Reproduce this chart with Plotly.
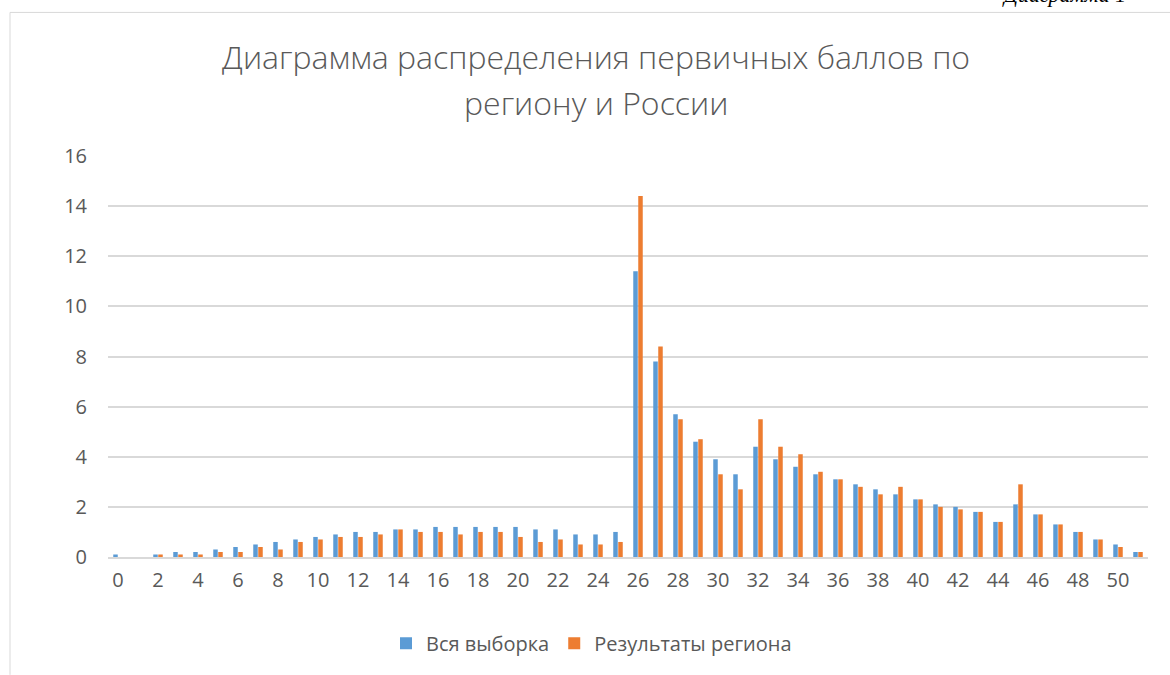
import plotly.graph_objects as go

categories = [0, 1, 2, 3, 4, 5, 6, 7, 8, 9, 10, 11, 12, 13, 14, 15, 16, 17, 18, 19,
              20, 21, 22, 23, 24, 25, 26, 27, 28, 29, 30, 31, 32, 33, 34, 35, 36, 37,
              38, 39, 40, 41, 42, 43, 44, 45, 46, 47, 48, 49, 50, 51]

all_sample = [0.1, 0, 0.1, 0.2, 0.2, 0.3, 0.4, 0.5, 0.6, 0.7, 0.8, 0.9, 1.0, 1.0,
              1.1, 1.1, 1.2, 1.2, 1.2, 1.2, 1.2, 1.1, 1.1, 0.9, 0.9, 1.0, 11.4, 7.8,
              5.7, 4.6, 3.9, 3.3, 4.4, 3.9, 3.6, 3.3, 3.1, 2.9, 2.7, 2.5, 2.3, 2.1,
              2.0, 1.8, 1.4, 2.1, 1.7, 1.3, 1.0, 0.7, 0.5, 0.2]

region = [0, 0, 0.1, 0.1, 0.1, 0.2, 0.2, 0.4, 0.3, 0.6, 0.7, 0.8, 0.8, 0.9,
          1.1, 1.0, 1.0, 0.9, 1.0, 1.0, 0.8, 0.6, 0.7, 0.5, 0.5, 0.6, 14.4, 8.4,
          5.5, 4.7, 3.3, 2.7, 5.5, 4.4, 4.1, 3.4, 3.1, 2.8, 2.5, 2.8, 2.3, 2.0,
          1.9, 1.8, 1.4, 2.9, 1.7, 1.3, 1.0, 0.7, 0.4, 0.2]

y_ticks = [0, 2, 4, 6, 8, 10, 12, 14, 16]
x_ticks = [0, 2, 4, 6, 8, 10, 12, 14, 16, 18, 20, 22, 24, 26, 28, 30, 32, 34, 36,
           38, 40, 42, 44, 46, 48, 50]

title_line1 = "Диаграмма распределения первичных баллов по"
title_line2 = "региону и России"
caption_text = "Диаграмма 1"
series_names = ["Вся выборка", "Результаты региона"]

BLUE = "#5B9BD5"
ORANGE = "#ED7D31"
TXT = "#595959"
FONT = "Open Sans"

W, H = 1170, 675
L, R, T, B = 108, 22, 156, 114
PW = W - L - R
PH = H - T - B


def px_x(px):
    return (px - L) / PW


def px_y(py):
    return (H - B - py) / PH


fig = go.Figure()
fig.add_trace(go.Bar(x=categories, y=all_sample, name=series_names[0],
                     marker=dict(color=BLUE, line=dict(width=0))))
fig.add_trace(go.Bar(x=categories, y=region, name=series_names[1],
                     marker=dict(color=ORANGE, line=dict(width=0))))

fig.update_layout(
    width=W, height=H,
    margin=dict(l=L, r=R, t=T, b=B),
    paper_bgcolor="white", plot_bgcolor="white",
    barmode="group", bargap=0.5, bargroupgap=0.1,
    font=dict(family=FONT, color=TXT, size=20),
    showlegend=True,
    legend=dict(orientation="h", x=px_x(386), y=px_y(648), xanchor="left",
                yanchor="middle", font=dict(size=20, color=TXT),
                traceorder="normal", bgcolor="rgba(0,0,0,0)"),
    xaxis=dict(range=[-0.5, 51.5], tickmode="array", tickvals=x_ticks,
               ticktext=[str(v) for v in x_ticks], showgrid=False,
               showline=True, linecolor="#D9D9D9", linewidth=1.5,
               zeroline=False, ticks="", ticklabelstandoff=4,
               tickfont=dict(size=20, color=TXT)),
    yaxis=dict(range=[0, 16], tickmode="array", tickvals=y_ticks,
               showgrid=True, gridcolor="#D9D9D9", gridwidth=1.5,
               zeroline=False, showline=False, ticks="",
               ticklabelstandoff=20, tickfont=dict(size=20, color=TXT)),
    annotations=[
        dict(text=title_line1, x=px_x(596), y=px_y(56), xref="paper", yref="paper",
             xanchor="center", yanchor="middle", showarrow=False,
             font=dict(size=32, color=TXT, family=FONT, weight=300)),
        dict(text=title_line2, x=px_x(596), y=px_y(102), xref="paper", yref="paper",
             xanchor="center", yanchor="middle", showarrow=False,
             font=dict(size=32, color=TXT, family=FONT, weight=300)),
        dict(text="<i>" + caption_text + "</i>", x=px_x(1000), y=px_y(-7), xref="paper",
             yref="paper", xanchor="left", yanchor="middle", showarrow=False,
             font=dict(size=22, color="black", family="Liberation Serif")),
    ],
    shapes=[
        dict(type="line", xref="paper", yref="paper", x0=px_x(10), x1=px_x(1175),
             y0=px_y(11), y1=px_y(11), line=dict(color="#D9D9D9", width=1)),
        dict(type="line", xref="paper", yref="paper", x0=px_x(10), x1=px_x(10),
             y0=px_y(11), y1=px_y(680), line=dict(color="#D9D9D9", width=1)),
    ],
)

fig.write_html("out.html",
               config={"displayModeBar": False},
               post_script="document.body.style.margin='0';document.body.style.overflow='hidden';")
